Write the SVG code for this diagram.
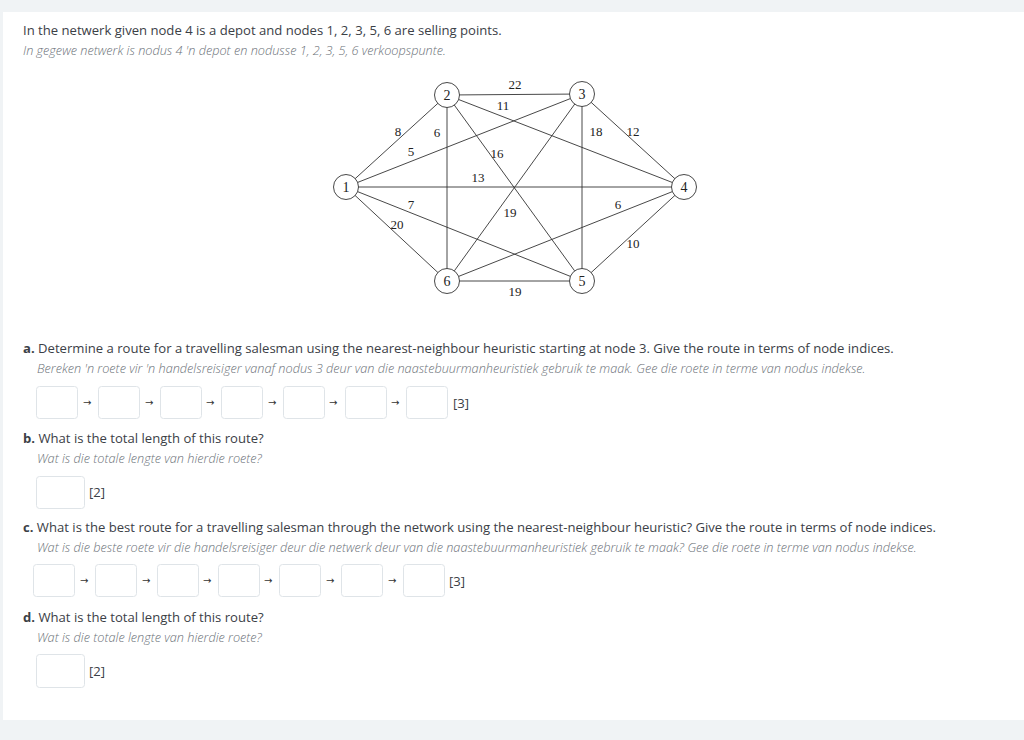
<svg xmlns="http://www.w3.org/2000/svg" width="1024" height="740" viewBox="0 0 1024 740">
<style>
.t{font-family:"Open Sans","Liberation Sans",sans-serif;font-size:13.1px;fill:#3b4046}
.i{font-family:"Open Sans","Liberation Sans",sans-serif;font-size:12.7px;font-style:italic;font-weight:300;fill:#6b7178}
.b{font-weight:bold}
.box{fill:#fff;stroke:#dfe4e8;stroke-width:1}
.ar{font-family:"DejaVu Sans",sans-serif;font-size:10px;fill:#333}
.e{stroke:#333;stroke-width:0.9;fill:none}
.n circle{fill:#fff;stroke:#333;stroke-width:0.9}
.n text{font-size:14px}
.n text,.w{font-family:"Liberation Serif","DejaVu Serif",serif;fill:#222;text-anchor:middle}
.w{font-size:13px}
</style>
<rect x="0" y="0" width="1024" height="740" fill="#f0f3f5"/>
<rect x="3" y="12" width="1021" height="708" fill="#fff"/>

<text class="t" x="23" y="35">In the netwerk given node 4 is a depot and nodes 1, 2, 3, 5, 6 are selling points.</text>
<text class="i" x="23" y="55">In gegewe netwerk is nodus 4 'n depot en nodusse 1, 2, 3, 5, 6 verkoopspunte.</text>

<g id="connectors">
<line class="e" x1="346" y1="187" x2="447" y2="95"/>
<line class="e" x1="346" y1="187" x2="582" y2="94"/>
<line class="e" x1="346" y1="187" x2="684" y2="187"/>
<line class="e" x1="346" y1="187" x2="582" y2="281"/>
<line class="e" x1="346" y1="187" x2="447" y2="281"/>
<line class="e" x1="447" y1="95" x2="582" y2="94"/>
<line class="e" x1="447" y1="95" x2="684" y2="187"/>
<line class="e" x1="447" y1="95" x2="582" y2="281"/>
<line class="e" x1="447" y1="95" x2="447" y2="281" stroke-width="1.2"/>
<line class="e" x1="582" y1="94" x2="684" y2="187"/>
<line class="e" x1="582" y1="94" x2="582" y2="281" stroke-width="1.2"/>
<line class="e" x1="582" y1="94" x2="447" y2="281"/>
<line class="e" x1="684" y1="187" x2="582" y2="281"/>
<line class="e" x1="684" y1="187" x2="447" y2="281"/>
<line class="e" x1="447" y1="281" x2="582" y2="281" stroke-width="1.2"/>
<text class="w" x="398" y="136">8</text>
<text class="w" x="411" y="156">5</text>
<text class="w" x="437" y="137">6</text>
<text class="w" x="515" y="89">22</text>
<text class="w" x="503" y="110">11</text>
<text class="w" x="497" y="158">16</text>
<text class="w" x="478" y="182">13</text>
<text class="w" x="596" y="136">18</text>
<text class="w" x="633" y="136">12</text>
<text class="w" x="411" y="209">7</text>
<text class="w" x="397" y="229">20</text>
<text class="w" x="510" y="217">19</text>
<text class="w" x="618" y="209">6</text>
<text class="w" x="633" y="248">10</text>
<text class="w" x="515" y="296">19</text>
</g>

<g id="node1" class="n"><circle cx="346" cy="187" r="12.5"/><text x="346" y="192">1</text></g>
<g id="node2" class="n"><circle cx="447" cy="95" r="12.5"/><text x="447" y="100">2</text></g>
<g id="node3" class="n"><circle cx="582" cy="94" r="12.5"/><text x="582" y="99">3</text></g>
<g id="node4" class="n"><circle cx="684" cy="187" r="12.5"/><text x="684" y="192">4</text></g>
<g id="node5" class="n"><circle cx="582" cy="281" r="12.5"/><text x="582" y="286">5</text></g>
<g id="node6" class="n"><circle cx="447" cy="281" r="12.5"/><text x="447" y="286">6</text></g>

<text class="t" x="23" y="353"><tspan class="b">a.</tspan> Determine a route for a travelling salesman using the nearest-neighbour heuristic starting at node 3. Give the route in terms of node indices.</text>
<text class="i" x="37" y="373">Bereken 'n roete vir 'n handelsreisiger vanaf nodus 3 deur van die naastebuurmanheuristiek gebruik te maak. Gee die roete in terme van nodus indekse.</text>
<g id="route-a">
<rect class="box" x="36.5" y="386.5" width="41" height="32" rx="3"/>
<rect class="box" x="98.5" y="386.5" width="41" height="32" rx="3"/>
<rect class="box" x="160.5" y="386.5" width="41" height="32" rx="3"/>
<rect class="box" x="221.5" y="386.5" width="41" height="32" rx="3"/>
<rect class="box" x="283.5" y="386.5" width="41" height="32" rx="3"/>
<rect class="box" x="345.5" y="386.5" width="41" height="32" rx="3"/>
<rect class="box" x="406.5" y="386.5" width="41" height="32" rx="3"/>
<text class="ar" x="83" y="406">→</text>
<text class="ar" x="145" y="406">→</text>
<text class="ar" x="206" y="406">→</text>
<text class="ar" x="268" y="406">→</text>
<text class="ar" x="329" y="406">→</text>
<text class="ar" x="391" y="406">→</text>
<text class="t" x="453" y="408">[3]</text>
</g>

<text class="t" x="23" y="443"><tspan class="b">b.</tspan> What is the total length of this route?</text>
<text class="i" x="37" y="463">Wat is die totale lengte van hierdie roete?</text>
<g id="answer-b">
<rect class="box" x="36.5" y="476.5" width="48" height="32" rx="3"/>
<text class="t" x="89" y="497">[2]</text>
</g>

<text class="t" x="23" y="532"><tspan class="b">c.</tspan> What is the best route for a travelling salesman through the network using the nearest-neighbour heuristic? Give the route in terms of node indices.</text>
<text class="i" x="37" y="552">Wat is die beste roete vir die handelsreisiger deur die netwerk deur van die naastebuurmanheuristiek gebruik te maak? Gee die roete in terme van nodus indekse.</text>
<g id="route-c">
<rect class="box" x="33.5" y="564.5" width="41" height="32" rx="3"/>
<rect class="box" x="95.5" y="564.5" width="41" height="32" rx="3"/>
<rect class="box" x="157.5" y="564.5" width="41" height="32" rx="3"/>
<rect class="box" x="218.5" y="564.5" width="41" height="32" rx="3"/>
<rect class="box" x="279.5" y="564.5" width="41" height="32" rx="3"/>
<rect class="box" x="341.5" y="564.5" width="41" height="32" rx="3"/>
<rect class="box" x="403.5" y="564.5" width="41" height="32" rx="3"/>
<text class="ar" x="80" y="584">→</text>
<text class="ar" x="142" y="584">→</text>
<text class="ar" x="203" y="584">→</text>
<text class="ar" x="264" y="584">→</text>
<text class="ar" x="326" y="584">→</text>
<text class="ar" x="388" y="584">→</text>
<text class="t" x="449" y="586">[3]</text>
</g>

<text class="t" x="23" y="622"><tspan class="b">d.</tspan> What is the total length of this route?</text>
<text class="i" x="37" y="642">Wat is die totale lengte van hierdie roete?</text>
<g id="answer-d">
<rect class="box" x="36.5" y="654.5" width="48" height="33" rx="3"/>
<text class="t" x="89" y="676">[2]</text>
</g>
</svg>
